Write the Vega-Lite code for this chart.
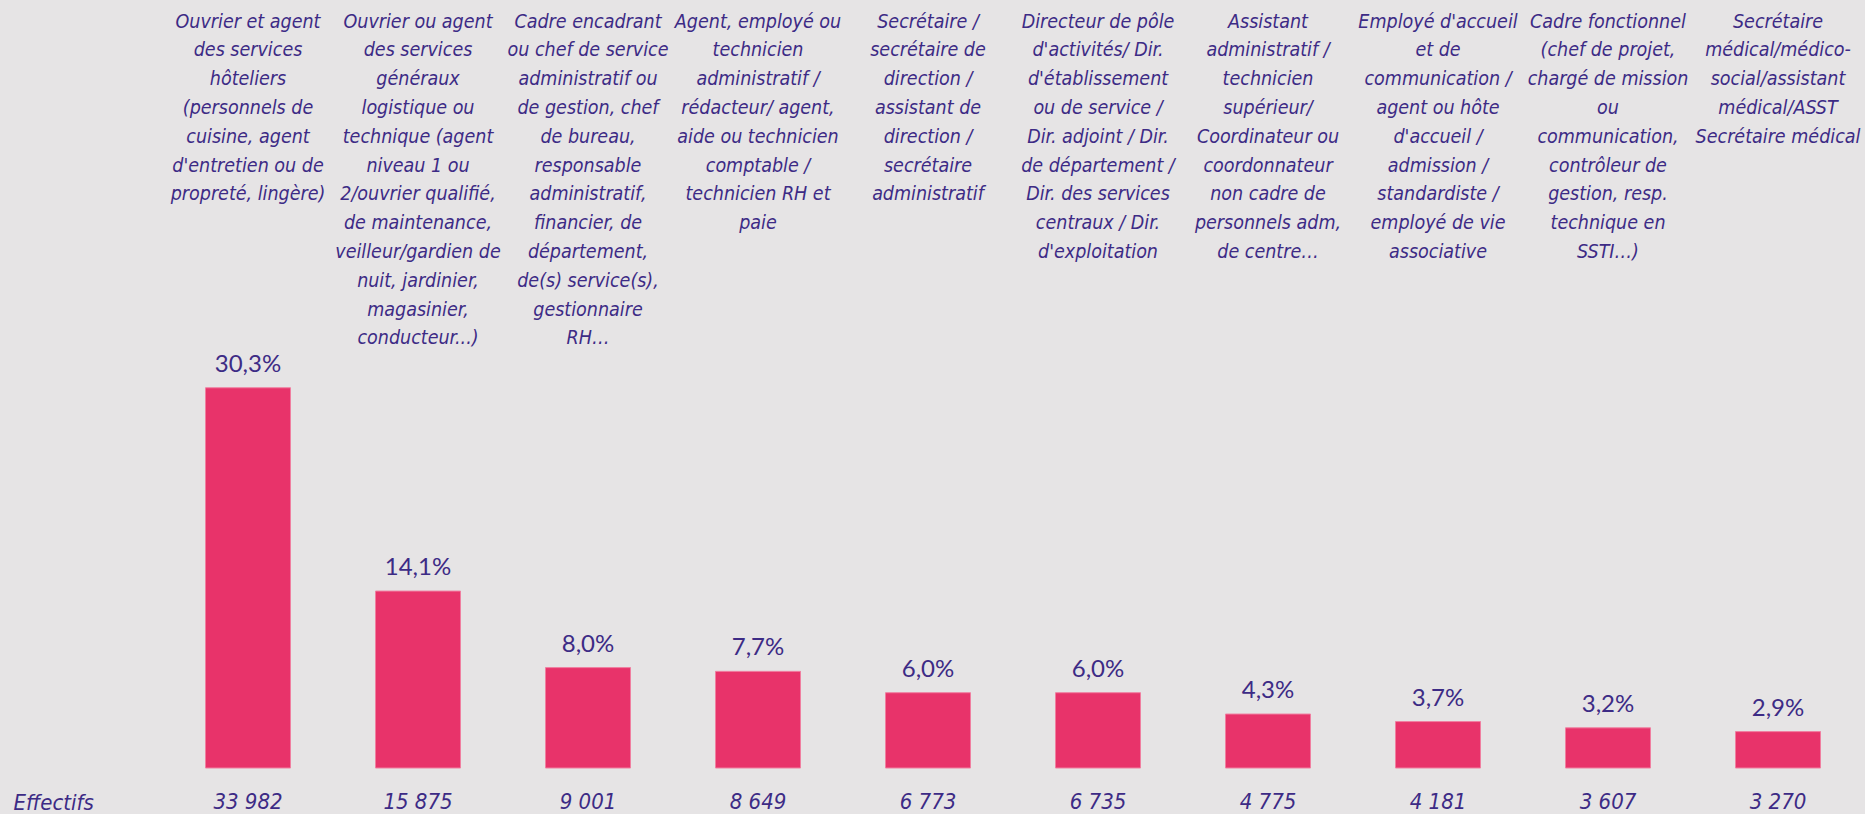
{
  "$schema": "https://vega.github.io/schema/vega-lite/v6.json",
  "width": 1700,
  "height": 768,
  "autosize": {"type": "none"},
  "padding": {"left": 163, "top": 0, "right": 2, "bottom": 46},
  "background": "#e6e4e5",
  "config": {
    "view": {"stroke": null},
    "locale": {"number": {"decimal": ",", "thousands": "\u00a0", "grouping": [3], "currency": ["", " €"]}}
  },
  "data": {
    "values": [
      {"categorie": "Ouvrier et agent|des services|hôteliers|(personnels de|cuisine, agent|d'entretien ou de|propreté, lingère)", "part": 0.303, "effectifs": 33982},
      {"categorie": "Ouvrier ou agent|des services|généraux|logistique ou|technique (agent|niveau 1 ou|2/ouvrier qualifié,|de maintenance,|veilleur/gardien de|nuit, jardinier,|magasinier,|conducteur...)", "part": 0.141, "effectifs": 15875},
      {"categorie": "Cadre encadrant|ou chef de service|administratif ou|de gestion, chef|de bureau,|responsable|administratif,|financier, de|département,|de(s) service(s),|gestionnaire|RH…", "part": 0.080, "effectifs": 9001},
      {"categorie": "Agent, employé ou|technicien|administratif /|rédacteur/ agent,|aide ou technicien|comptable /|technicien RH et|paie", "part": 0.077, "effectifs": 8649},
      {"categorie": "Secrétaire /|secrétaire de|direction /|assistant de|direction /|secrétaire|administratif", "part": 0.060, "effectifs": 6773},
      {"categorie": "Directeur de pôle|d'activités/ Dir.|d'établissement|ou de service /|Dir. adjoint / Dir.|de département /|Dir. des services|centraux  / Dir.|d'exploitation", "part": 0.060, "effectifs": 6735},
      {"categorie": "Assistant|administratif /|technicien|supérieur/|Coordinateur ou|coordonnateur|non cadre de|personnels adm,|de centre…", "part": 0.043, "effectifs": 4775},
      {"categorie": "Employé d'accueil|et de|communication /|agent ou hôte|d'accueil /|admission /|standardiste /|employé de vie|associative", "part": 0.037, "effectifs": 4181},
      {"categorie": "Cadre fonctionnel|(chef de projet,|chargé de mission|ou|communication,|contrôleur de|gestion, resp.|technique en|SSTI…)", "part": 0.032, "effectifs": 3607},
      {"categorie": "Secrétaire|médical/médico-|social/assistant|médical/ASST|Secrétaire médical", "part": 0.029, "effectifs": 3270}
    ]
  },
  "encoding": {
    "x": {
      "field": "categorie",
      "type": "nominal",
      "sort": null,
      "scale": {"paddingInner": 0.5, "paddingOuter": 0.25},
      "axis": {
        "orient": "top",
        "title": null,
        "labelExpr": "split(datum.label, '|')",
        "labelAngle": 0,
        "labelAlign": "center",
        "labelBaseline": "top",
        "labelPadding": -12,
        "labelLimit": 0,
        "labelOverlap": false,
        "labelFont": "DejaVu Sans Condensed, sans-serif",
        "labelFontStyle": "italic",
        "labelFontSize": 19.5,
        "labelLineHeight": 28.8,
        "labelColor": "#3d2b85",
        "ticks": false,
        "domain": false,
        "grid": false
      }
    }
  },
  "layer": [
    {
      "mark": {"type": "bar", "color": "#e8336a", "stroke": "#f07fa0", "strokeWidth": 1},
      "encoding": {
        "y": {
          "field": "part",
          "type": "quantitative",
          "scale": {"domain": [0, 0.612], "nice": false, "zero": true},
          "axis": {
            "title": "Effectifs",
            "labels": false,
            "ticks": false,
            "domain": false,
            "grid": false,
            "titleAngle": 0,
            "titleAlign": "left",
            "titleBaseline": "alphabetic",
            "titleX": -150,
            "titleY": 809,
            "titleFont": "DejaVu Sans Condensed, sans-serif",
            "titleFontStyle": "italic",
            "titleFontWeight": "normal",
            "titleFontSize": 22,
            "titleColor": "#3d2b85"
          }
        }
      }
    },
    {
      "mark": {"type": "text", "baseline": "alphabetic", "dy": -16, "font": "Lato", "fontSize": 24, "color": "#3d2b85"},
      "encoding": {
        "y": {"field": "part", "type": "quantitative"},
        "text": {"field": "part", "type": "quantitative", "format": ".1%"}
      }
    },
    {
      "mark": {"type": "text", "baseline": "alphabetic", "dy": 41, "font": "DejaVu Sans Condensed, sans-serif", "fontStyle": "italic", "fontSize": 22, "color": "#3d2b85"},
      "encoding": {
        "y": {"datum": 0, "type": "quantitative"},
        "text": {"field": "effectifs", "type": "quantitative", "format": ",d"}
      }
    }
  ]
}
